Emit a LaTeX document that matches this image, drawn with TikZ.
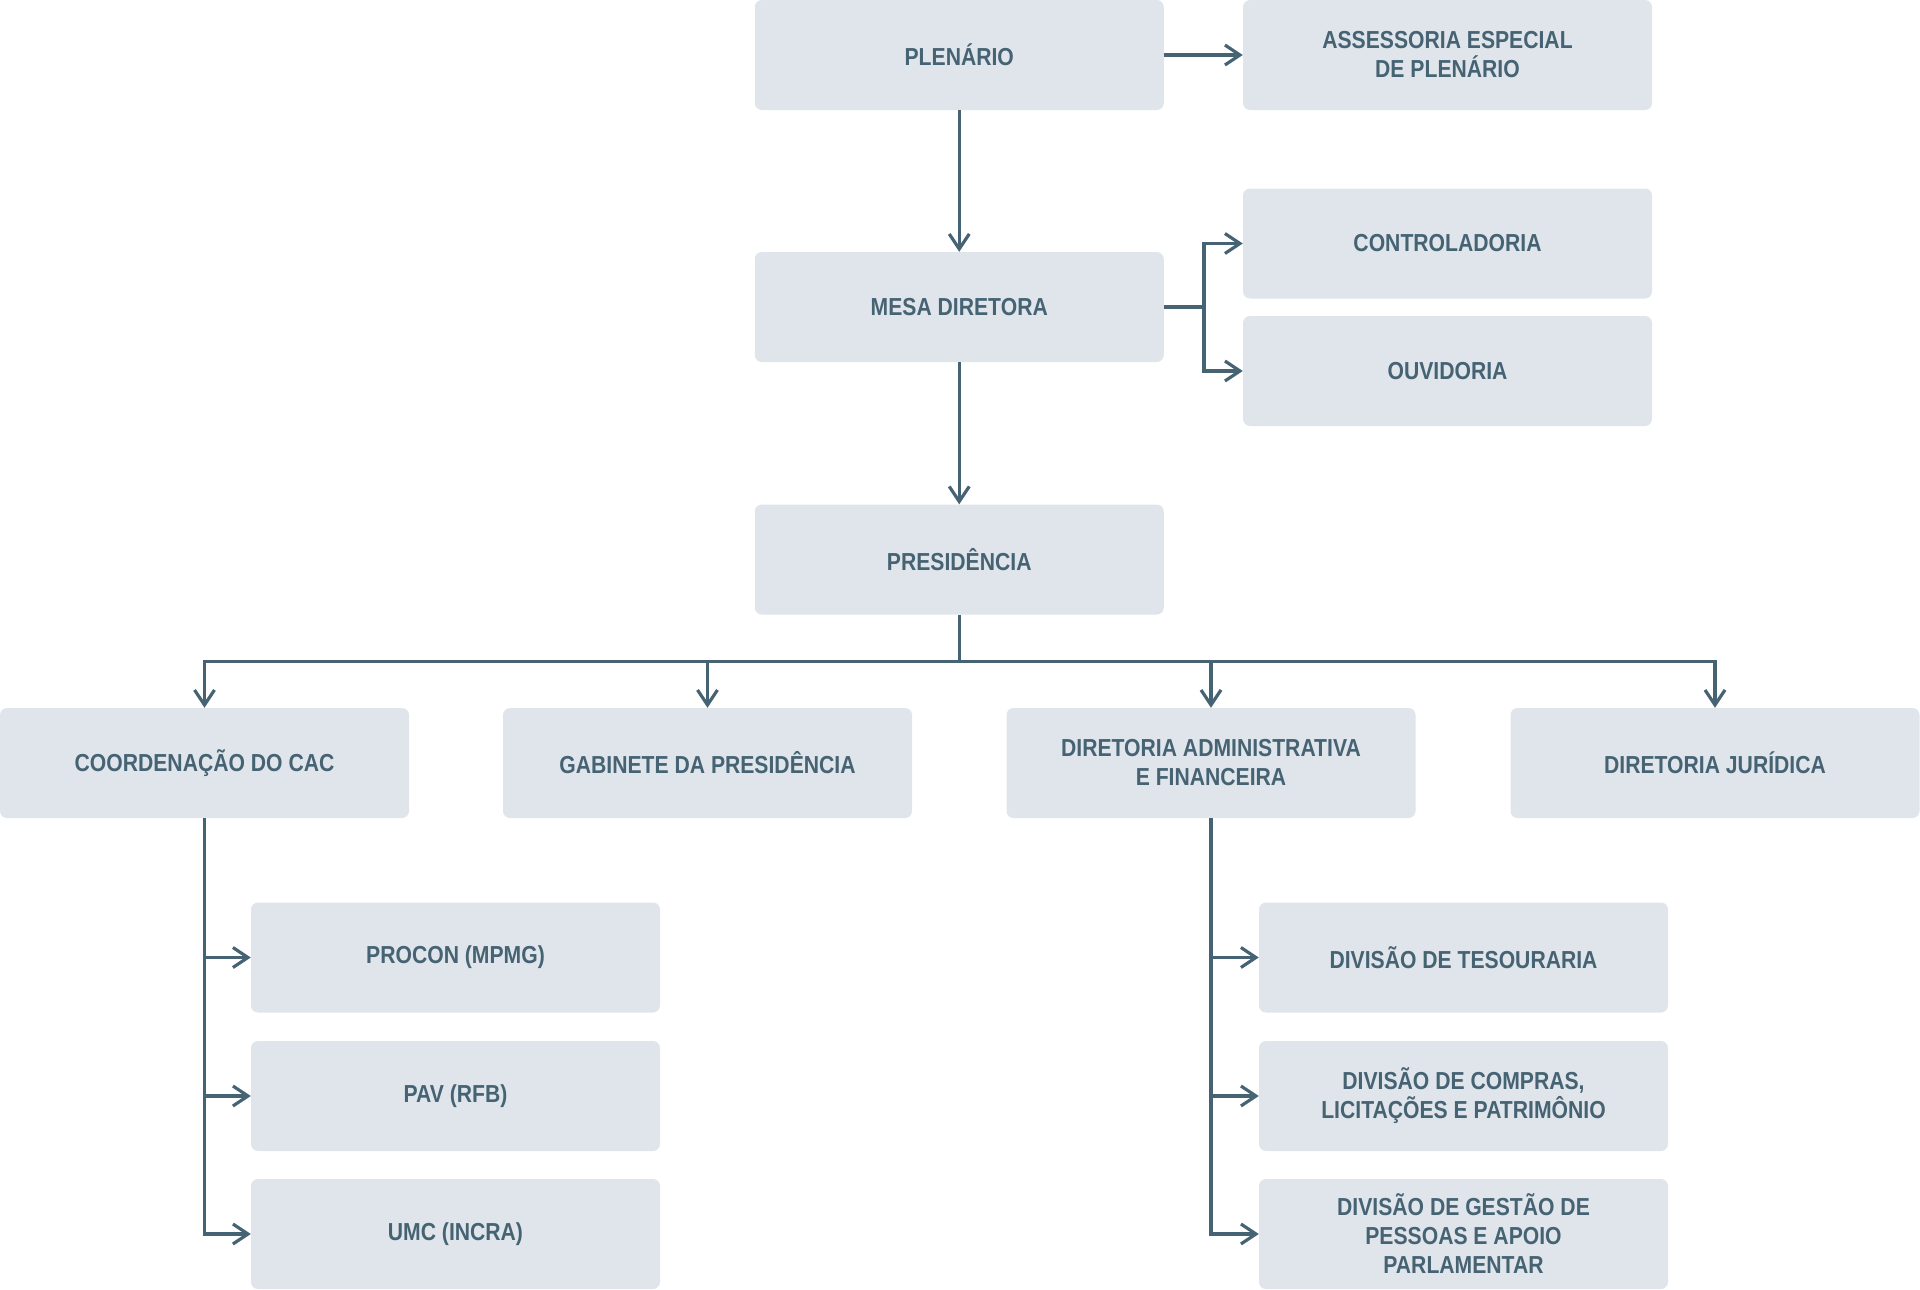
\documentclass[tikz,border=0pt]{standalone}
\usepackage{fontspec}
\usetikzlibrary{arrows.meta}
\newfontfamily\boxfont[FakeStretch=0.86]{Liberation Sans}
\definecolor{boxfill}{HTML}{DFE5EB}
\definecolor{ink}{HTML}{466373}
\begin{document}
\begin{tikzpicture}[x=1pt,y=-1pt,
  orgbox/.style={fill=boxfill, rounded corners=7pt, minimum width=409pt, minimum height=110pt,
    inner sep=0pt, align=center, text=ink, font={\boxfont\fontsize{24.6}{29}\selectfont\bfseries}},
  conn/.style={draw=ink, line width=3.2pt},
  arr/.style={conn, -{Straight Barb[length=15pt,width=20pt]}}]
\useasboundingbox (0,0) rectangle (1920,1290);
% top column
\node[orgbox] (plen) at (959.25,55) {PLENÁRIO};
\node[orgbox] (ass) at (1447.5,55) {ASSESSORIA ESPECIAL\\DE PLENÁRIO};
\node[orgbox] (ctrl) at (1447.5,243.5) {CONTROLADORIA};
\node[orgbox] (mesa) at (959.25,307) {MESA DIRETORA};
\node[orgbox] (ouv) at (1447.5,371) {OUVIDORIA};
\node[orgbox] (pres) at (959.25,559.5) {PRESIDÊNCIA};
% row
\node[orgbox] (cac) at (204.5,763) {COORDENAÇÃO DO CAC};
\node[orgbox] (gab) at (707.5,763) {GABINETE DA PRESIDÊNCIA};
\node[orgbox] (dafin) at (1211,763) {DIRETORIA ADMINISTRATIVA\\E FINANCEIRA};
\node[orgbox] (djur) at (1715,763) {DIRETORIA JURÍDICA};
% left subs
\node[orgbox] (proc) at (455.5,957.5) {PROCON (MPMG)};
\node[orgbox] (pav) at (455.5,1096) {PAV (RFB)};
\node[orgbox] (umc) at (455.5,1234) {UMC (INCRA)};
% right subs
\node[orgbox] (tes) at (1463.5,957.5) {DIVISÃO DE TESOURARIA};
\node[orgbox] (comp) at (1463.5,1096) {DIVISÃO DE COMPRAS,\\LICITAÇÕES E PATRIMÔNIO};
\node[orgbox] (gest) at (1463.5,1234) {DIVISÃO DE GESTÃO DE\\PESSOAS E APOIO\\PARLAMENTAR};
% connectors
\draw[arr] (plen.east) -- (ass.west);
\draw[arr] (plen.south) -- (mesa.north);
\draw[arr] (mesa.south) -- (pres.north);
\coordinate (mb) at (1204,307);
\draw[conn] (mesa.east) -- (mb);
\draw[arr] (mb) |- (ctrl.west);
\draw[arr] (mb) |- (ouv.west);
\coordinate (bar) at (959.25,661.5);
\draw[conn] (pres.south) -- (bar);
\draw[arr] (bar) -| (cac.north);
\draw[arr] (bar) -| (gab.north);
\draw[arr] (bar) -| (dafin.north);
\draw[arr] (bar) -| (djur.north);
\draw[arr] (cac.south) |- (umc.west);
\draw[arr] (cac.south |- proc.west) -- (proc.west);
\draw[arr] (cac.south |- pav.west) -- (pav.west);
\draw[arr] (dafin.south) |- (gest.west);
\draw[arr] (dafin.south |- tes.west) -- (tes.west);
\draw[arr] (dafin.south |- comp.west) -- (comp.west);
\end{tikzpicture}
\end{document}
